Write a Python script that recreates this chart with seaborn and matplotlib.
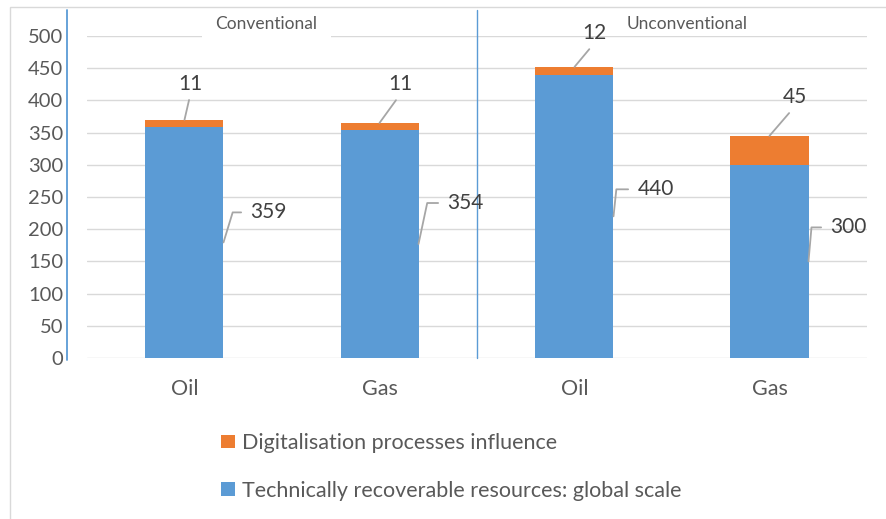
import matplotlib
matplotlib.use('Agg')
import matplotlib.pyplot as plt
import seaborn as sns
import pandas as pd
from matplotlib.lines import Line2D
from matplotlib.patches import Rectangle, Patch

# ---- data ----
groups = ['Conventional', 'Conventional', 'Unconventional', 'Unconventional']
resources = ['Oil', 'Gas', 'Oil', 'Gas']
recoverable = [359, 354, 440, 300]
digitalisation = [11, 11, 12, 45]
series_names = ['Digitalisation processes influence',
                'Technically recoverable resources: global scale']
yticks = list(range(0, 501, 50))
group_titles = ['Conventional', 'Unconventional']

# ---- label placement (pixels offsets / leader angles) ----
blue_label_offsets = [(27, 30), (29, 41), (24, 27), (22, 34)]
blue_leader_angles = [73, 78, 84, 85]
orange_label_offsets = [(6, 36), (21, 39), (20, 34), (25, 39)]

BLUE = '#5B9BD5'
ORANGE = '#ED7D31'
GRID = '#D9D9D9'
TXT = '#595959'
LBL = '#404040'
LEADER = '#A6A6A6'

df = pd.DataFrame({
    'key': [f'{g} {r}' for g, r in zip(groups, resources)],
    'resource': resources,
    'recoverable': recoverable,
    'digital': digitalisation,
})
df['total'] = df['recoverable'] + df['digital']

sns.set_theme(style='white')
plt.rcParams['font.family'] = ['Lato', 'DejaVu Sans']

W, H = 887, 519
fig = plt.figure(figsize=(W / 100, H / 100), dpi=100)
ax = fig.add_axes([87 / W, 1 - 358 / H, 780 / W, 322 / H])

order = list(df['key'])
sns.barplot(data=df, x='key', y='total', color=ORANGE, width=0.4, saturation=1,
            errorbar=None, order=order, ax=ax, linewidth=0)
sns.barplot(data=df, x='key', y='recoverable', color=BLUE, width=0.4, saturation=1,
            errorbar=None, order=order, ax=ax, linewidth=0)

ax.set_xlim(-0.5, 3.5)
ax.set_ylim(0, 500)
ax.set_yticks(yticks)
ax.set_xticks(range(len(resources)))
ax.set_xticklabels(resources)
ax.set_xlabel('')
ax.set_ylabel('')
ax.yaxis.grid(True, color=GRID, lw=1)
ax.set_axisbelow(True)
for s in ax.spines.values():
    s.set_visible(False)
ax.tick_params(axis='y', length=0, pad=17, labelsize=14.5, labelcolor=TXT)
ax.tick_params(axis='x', length=0, pad=15, labelsize=15.5, labelcolor=TXT)

# left axis line (offset) and group divider
ax.add_line(Line2D([-0.0256, -0.0256], [-0.005, 1.081], transform=ax.transAxes,
                   clip_on=False, color=BLUE, lw=1.3))
ax.axvline(1.5, ymin=0, ymax=1.081, clip_on=False, color=BLUE, lw=1)

# group titles
xt = ax.get_xaxis_transform()
ax.text(0.42, 1.037, group_titles[0], transform=xt, ha='center', va='center',
        fontsize=12.5, color=TXT,
        bbox=dict(boxstyle='square,pad=0.8', fc='white', ec='none'))
ax.text(2.58, 1.037, group_titles[1], transform=xt, ha='center', va='center',
        fontsize=12.5, color=TXT)

# data labels
for i in range(len(recoverable)):
    # blue labels
    dx, dy = blue_label_offsets[i]
    ax.annotate(str(recoverable[i]), xy=(i + 0.2, recoverable[i] / 2),
                xytext=(dx, dy), textcoords='offset pixels',
                ha='left', va='center', fontsize=15, color=LBL,
                bbox=dict(boxstyle='square,pad=0.45', fc='none', ec='none'),
                arrowprops=dict(arrowstyle='-', color=LEADER, lw=1.3,
                                shrinkA=0, shrinkB=0, relpos=(0, 0.5),
                                connectionstyle=f'angle,angleA=0,angleB={blue_leader_angles[i]},rad=0'))
    # orange labels
    dx, dy = orange_label_offsets[i]
    total = recoverable[i] + digitalisation[i]
    ax.annotate(str(digitalisation[i]), xy=(i, total),
                xytext=(dx, dy), textcoords='offset pixels',
                ha='center', va='center', fontsize=15, color=LBL,
                bbox=dict(boxstyle='square,pad=0.3', fc='none', ec='none'),
                arrowprops=dict(arrowstyle='-', color=LEADER, lw=1.3,
                                shrinkA=0, shrinkB=0, relpos=(0.5, 0)))

# legend
handles = [Patch(facecolor=ORANGE, edgecolor='none'),
           Patch(facecolor=BLUE, edgecolor='none')]
fig.legend(handles=handles, labels=series_names, loc='upper left',
           bbox_to_anchor=(221 / W, 1 - 433 / H), frameon=False,
           handlelength=0.65, handleheight=0.6, handletextpad=0.33,
           labelspacing=1.28, fontsize=15.5, labelcolor=TXT, borderpad=0,
           borderaxespad=0)

# figure border
fig.add_artist(Rectangle((10 / W, -0.1), 1.2, 1 - 7 / H + 0.1,
                         transform=fig.transFigure, fill=False, ec=GRID, lw=1))

fig.savefig('out.png', dpi=100)
